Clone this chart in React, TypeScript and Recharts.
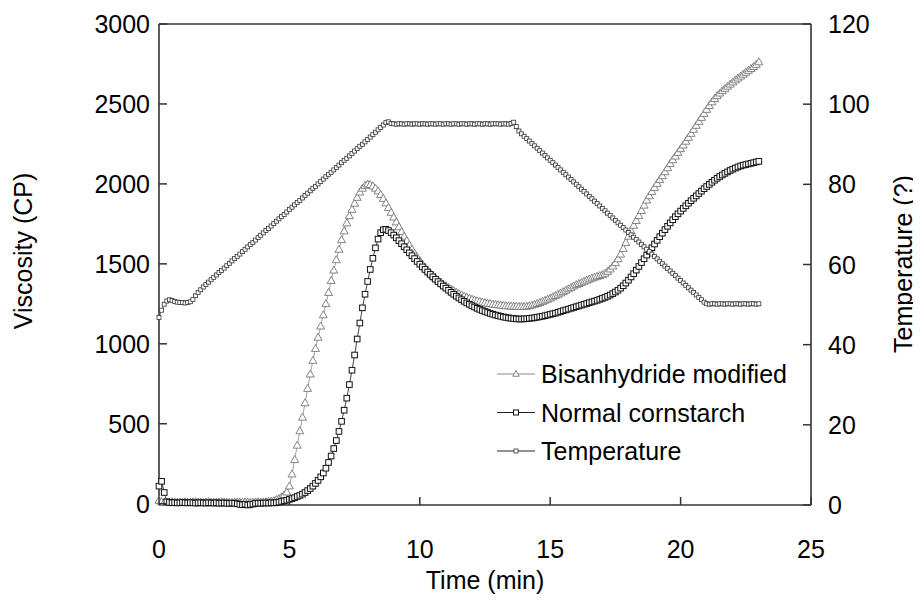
import { Line, LineChart, ReferenceLine, XAxis, YAxis } from "recharts";

// readings taken every 0.1 min from 0 to 23 min
const minuteStep = 0.1;

const bisanhydride = [
  20, 12, 8, 10, 9, 11, 10, 8, 9, 10,
  11, 9, 8, 10, 12, 10, 9, 8, 10, 11,
  9, 10, 8, 9, 11, 10, 9, 8, 7, 9,
  10, 8, 9, 10, 8, 7, 9, 10, 11, 9,
  10, 12, 14, 15, 18, 25, 32, 42, 55, 72,
  110, 185, 275, 365, 455, 540, 630, 720, 810, 895,
  970, 1040, 1110, 1180, 1250, 1320, 1395, 1460, 1525, 1590,
  1650, 1705, 1755, 1800, 1840, 1878, 1915, 1948, 1972, 1990,
  1998, 1995, 1986, 1972, 1955, 1933, 1908, 1880, 1851, 1821,
  1791, 1761, 1731, 1701, 1672, 1644, 1617, 1591, 1566, 1542,
  1519, 1498, 1478, 1460, 1443, 1427, 1412, 1398, 1385, 1373,
  1362, 1351, 1341, 1331, 1322, 1313, 1305, 1297, 1290, 1284,
  1278, 1273, 1268, 1264, 1260, 1256, 1253, 1250, 1247, 1245,
  1243, 1241, 1239, 1237, 1236, 1235, 1234, 1233, 1232, 1232,
  1232, 1234, 1237, 1241, 1246, 1251, 1257, 1264, 1271, 1278,
  1285, 1293, 1301, 1309, 1317, 1325, 1334, 1343, 1352, 1361,
  1369, 1376, 1383, 1390, 1397, 1404, 1410, 1416, 1421, 1426,
  1431, 1440, 1452, 1467, 1485, 1506, 1531, 1560, 1595, 1633,
  1672, 1707, 1740, 1770, 1801, 1833, 1866, 1898, 1925, 1951,
  1977, 2002, 2026, 2050, 2075, 2100, 2126, 2150, 2173, 2196,
  2219, 2242, 2266, 2290, 2315, 2340, 2365, 2390, 2415, 2440,
  2465, 2489, 2512, 2533, 2551, 2567, 2582, 2596, 2610, 2623,
  2636, 2649, 2661, 2673, 2685, 2697, 2709, 2721, 2733, 2746,
  2762,
];

const cornstarch = [
  110, 140, 70, 12, 8, 6, 7, 5, 6, 8,
  6, 5, 7, 6, 4, 5, 6, 5, 4, 6,
  5, 4, 6, 3, 4, 5, 3, 2, 4, 3,
  0, -4, -6, -3, -8, -5, -2, 2, 4, 3,
  4, 5, 4, 6, 5, 7, 10, 14, 18, 22,
  27, 32, 38, 45, 52, 60, 70, 82, 95, 110,
  127, 146, 168, 192, 222, 258, 298, 345, 395, 452,
  515, 585, 660, 745, 835, 930, 1030, 1130, 1225, 1310,
  1390, 1465, 1535, 1600, 1655, 1695, 1713, 1716, 1708, 1695,
  1680, 1663, 1645, 1626, 1607, 1588, 1569, 1551, 1533, 1515,
  1498, 1481, 1465, 1449, 1434, 1419, 1404, 1389, 1375, 1361,
  1348, 1335, 1322, 1310, 1298, 1287, 1276, 1266, 1256, 1247,
  1238, 1230, 1222, 1215, 1208, 1202, 1196, 1190, 1185, 1180,
  1176, 1172, 1168, 1165, 1162, 1160, 1158, 1156, 1155, 1155,
  1156, 1157, 1159, 1161, 1163, 1166, 1169, 1172, 1176, 1180,
  1184, 1188, 1192, 1197, 1202, 1207, 1212, 1217, 1222, 1227,
  1232, 1237, 1242, 1247, 1252, 1257, 1262, 1267, 1272, 1278,
  1284, 1290, 1297, 1305, 1314, 1324, 1335, 1348, 1363, 1380,
  1398, 1418, 1439, 1461, 1484, 1508, 1532, 1555, 1578, 1601,
  1624, 1647, 1670, 1692, 1714, 1735, 1756, 1776, 1795, 1813,
  1830, 1847, 1863, 1879, 1895, 1910, 1925, 1940, 1955, 1970,
  1984, 1997, 2010, 2023, 2035, 2046, 2056, 2066, 2075, 2084,
  2092, 2099, 2106, 2112, 2117, 2121, 2125, 2129, 2133, 2137,
  2141,
];

const temperature = [
  46.8, 48.6, 50.1, 50.9, 51.2, 51.0, 50.8, 50.6, 50.5, 50.5,
  50.4, 50.5, 50.7, 51.3, 52.2, 53.0, 53.7, 54.4, 55.0, 55.6,
  56.2, 56.8, 57.4, 58.0, 58.5, 59.1, 59.7, 60.3, 60.9, 61.5,
  62.0, 62.6, 63.2, 63.8, 64.4, 65.0, 65.5, 66.1, 66.7, 67.3,
  67.9, 68.5, 69.0, 69.6, 70.2, 70.8, 71.4, 72.0, 72.5, 73.1,
  73.7, 74.3, 74.9, 75.5, 76.0, 76.6, 77.2, 77.8, 78.4, 79.0,
  79.5, 80.1, 80.7, 81.3, 81.9, 82.5, 83.0, 83.6, 84.2, 84.8,
  85.4, 86.0, 86.5, 87.1, 87.7, 88.3, 88.9, 89.5, 90.0, 90.6,
  91.2, 91.8, 92.4, 93.0, 93.6, 94.2, 94.8, 95.4, 95.6, 95.2,
  95.1, 95.0, 95.1, 95.1, 95.0, 95.1, 95.1, 95.0, 95.1, 95.1,
  95.0, 95.1, 95.1, 95.0, 95.1, 95.1, 95.0, 95.1, 95.1, 95.0,
  95.1, 95.1, 95.0, 95.1, 95.1, 95.0, 95.1, 95.1, 95.0, 95.1,
  95.1, 95.0, 95.1, 95.1, 95.0, 95.1, 95.1, 95.0, 95.1, 95.1,
  95.1, 95.0, 95.1, 95.1, 95.0, 95.2, 95.5, 94.4, 93.3, 92.6,
  92.0, 91.4, 90.8, 90.2, 89.6, 89.0, 88.4, 87.8, 87.2, 86.6,
  86.0, 85.4, 84.8, 84.2, 83.6, 83.0, 82.4, 81.8, 81.2, 80.6,
  80.0, 79.4, 78.8, 78.2, 77.6, 77.0, 76.4, 75.8, 75.2, 74.6,
  74.0, 73.4, 72.8, 72.2, 71.6, 71.0, 70.4, 69.8, 69.2, 68.6,
  68.0, 67.4, 66.8, 66.2, 65.6, 65.0, 64.4, 63.8, 63.2, 62.6,
  62.0, 61.4, 60.8, 60.2, 59.6, 59.0, 58.4, 57.8, 57.2, 56.6,
  56.0, 55.4, 54.8, 54.2, 53.6, 53.0, 52.4, 51.8, 51.2, 50.6,
  50.2, 50.1, 50.2, 50.2, 50.1, 50.2, 50.2, 50.1, 50.2, 50.2,
  50.1, 50.2, 50.2, 50.1, 50.2, 50.2, 50.1, 50.2, 50.2, 50.1,
  50.2,
];

const timeTicks = [0, 5, 10, 15, 20, 25];
const viscosityTicks = [0, 500, 1000, 1500, 2000, 2500, 3000];
const temperatureTicks = [0, 20, 40, 60, 80, 100, 120];

const legendItems = [
  { key: "bis", label: "Bisanhydride modified" },
  { key: "ncs", label: "Normal cornstarch" },
  { key: "temp", label: "Temperature" },
];

const rows = bisanhydride.map((v, i) => ({
  t: Math.round(i * minuteStep * 10) / 10,
  bis: v,
  ncs: cornstarch[i],
  temp: temperature[i],
}));

const FONT = '"Liberation Sans", Arial, sans-serif';
const AXIS = "#333";
const FS = 25;

const triangle = (cx: number, cy: number, r: number) =>
  `M${cx},${cy - r * 1.05}L${cx + r},${cy + r * 0.7}L${cx - r},${cy + r * 0.7}Z`;

const triDot = (p: any) => {
  if (p.cx == null || p.cy == null) return <g key={`b${p.index}`} />;
  return <path key={`b${p.index}`} d={triangle(p.cx, p.cy, 4)} fill="#fff" stroke="#777" strokeWidth={0.9} />;
};

const squareDot = (p: any) => {
  if (p.cx == null || p.cy == null) return <g key={`n${p.index}`} />;
  return <rect key={`n${p.index}`} x={p.cx - 2.8} y={p.cy - 2.8} width={5.6} height={5.6} fill="#fff" stroke="#111" strokeWidth={1} />;
};

const tempDot = (p: any) => {
  if (p.cx == null || p.cy == null) return <g key={`t${p.index}`} />;
  return <rect key={`t${p.index}`} x={p.cx - 2} y={p.cy - 2} width={4} height={4} fill="#fff" stroke="#333" strokeWidth={0.8} />;
};

const LeftTick = ({ x, y, payload }: any) => (
  <g>
    <line x1={x} x2={x + 8} y1={y} y2={y} stroke={AXIS} strokeWidth={1.5} />
    <text x={x - 9} y={y} dy="0.36em" textAnchor="end" fontSize={FS} fontFamily={FONT} fill="#000">
      {payload.value}
    </text>
  </g>
);

const RightTick = ({ x, y, payload }: any) => (
  <g>
    <line x1={x - 8} x2={x} y1={y} y2={y} stroke={AXIS} strokeWidth={1.5} />
    <text x={x + 17} y={y} dy="0.36em" textAnchor="start" fontSize={FS} fontFamily={FONT} fill="#000">
      {payload.value}
    </text>
  </g>
);

const BottomTick = ({ x, y, payload }: any) => (
  <g>
    <line x1={x} x2={x} y1={y - 8} y2={y} stroke={AXIS} strokeWidth={1.5} />
    <text x={x} y={y + 53} textAnchor="middle" fontSize={FS} fontFamily={FONT} fill="#000">
      {payload.value}
    </text>
  </g>
);

const legendMarker = (key: string, cx: number, cy: number) => {
  if (key === "bis") return <path d={triangle(cx, cy, 3.2)} fill="#fff" stroke="#777" strokeWidth={0.9} />;
  if (key === "ncs") return <rect x={cx - 2.5} y={cy - 2.5} width={5} height={5} fill="#fff" stroke="#111" />;
  return <rect x={cx - 2} y={cy - 2} width={4} height={4} fill="#fff" stroke="#333" strokeWidth={0.8} />;
};

export default function App() {
  return (
    <div style={{ position: "relative", width: 912, height: 592, fontFamily: FONT }}>
      <LineChart width={912} height={592} data={rows} margin={{ top: 16, right: 0, bottom: 0, left: 0 }}>
        <XAxis
          dataKey="t"
          type="number"
          domain={[0, 25]}
          ticks={timeTicks}
          height={95}
          stroke={AXIS}
          strokeWidth={1.6}
          tickSize={0}
          tickMargin={0}
          tickLine={false}
          tick={<BottomTick />}
          label={() => (
            <text x={477} y={581} textAnchor="middle" fontSize={FS} fontFamily={FONT} fill="#000">
              Time (min)
            </text>
          )}
        />
        <YAxis
          yAxisId="v"
          domain={[0, 3000]}
          ticks={viscosityTicks}
          width={151}
          stroke={AXIS}
          strokeWidth={1.6}
          tickSize={0}
          tickMargin={0}
          tickLine={false}
          tick={<LeftTick />}
          label={() => (
            <text x={24} y={243} transform="rotate(-90, 24, 243)" textAnchor="middle" fontSize={FS} fontFamily={FONT} fill="#000">
              Viscosity (CP)
            </text>
          )}
        />
        <YAxis
          yAxisId="t"
          orientation="right"
          domain={[0, 120]}
          ticks={temperatureTicks}
          width={109}
          stroke={AXIS}
          strokeWidth={1.6}
          tickSize={0}
          tickMargin={0}
          tickLine={false}
          tick={<RightTick />}
          label={() => (
            <text x={904} y={256} transform="rotate(-90, 904, 256)" textAnchor="middle" fontSize={FS} fontFamily={FONT} fill="#000">
              Temperature (?)
            </text>
          )}
        />
        <ReferenceLine yAxisId="v" y={3000} stroke={AXIS} strokeWidth={1.6} />
        <Line yAxisId="v" dataKey="bis" stroke="#888" strokeWidth={0.8} dot={triDot} activeDot={false} isAnimationActive={false} />
        <Line yAxisId="v" dataKey="ncs" stroke="#111" strokeWidth={0.8} dot={squareDot} activeDot={false} isAnimationActive={false} />
        <Line yAxisId="t" dataKey="temp" stroke="#444" strokeWidth={0.8} dot={tempDot} activeDot={false} isAnimationActive={false} />
      </LineChart>
      <svg width={912} height={592} style={{ position: "absolute", left: 0, top: 0, pointerEvents: "none" }}>
        {legendItems.map((item, i) => {
          const cy = 366 + i * 38.5;
          return (
            <g key={item.key}>
              <line x1={489} x2={527} y1={cy} y2={cy} stroke={item.key === "bis" ? "#888" : "#222"} strokeWidth={1} />
              {legendMarker(item.key, 508, cy)}
              <text x={533} y={cy} dy="0.36em" fontSize={FS} fontFamily={FONT} fill="#000">
                {item.label}
              </text>
            </g>
          );
        })}
      </svg>
    </div>
  );
}
